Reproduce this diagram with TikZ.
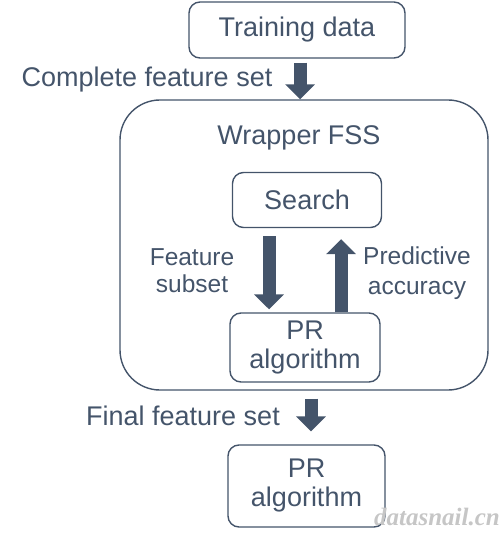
\documentclass[tikz,border=0pt]{standalone}
\usepackage{fontspec}
\setmainfont{Liberation Sans}
\newfontfamily\wmfont{Liberation Serif}
\usetikzlibrary{arrows.meta,calc}
\definecolor{slate}{HTML}{44546A}
\tikzset{
  box/.style={rectangle,draw=slate,line width=1.4pt,rounded corners=11pt,text=slate,align=center},
  lbl/.style={text=slate,align=center,inner sep=0pt},
  small/.style={font=\fontsize{24.5}{27}\selectfont},
  fat/.style={line width=13pt,draw=slate,-{Triangle[width=29pt,length=15pt]}},
}
\begin{document}
\begin{tikzpicture}[x=1pt,y=-1pt,font=\fontsize{27}{30}\selectfont]
            \useasboundingbox (0,0) rectangle (500,534);
            \node[box,minimum width=216pt,minimum height=56pt] (train) at (297,30) {Training data};
            \node[lbl] (lblComplete) at (147,80) {Complete feature set};
            \node[box,rounded corners=40pt,minimum width=368pt,minimum height=290pt] (wrap) at (304,245) {};
            \node[lbl] (lblWrap) at (299,138) {Wrapper FSS};
            \node[box,minimum width=149pt,minimum height=55pt] (search) at (307,200) {Search};
            \node[box,minimum width=150pt,minimum height=69pt,inner sep=1pt] (pr) at (305,347.5) {PR\\[-1pt]algorithm};
            \node[lbl,small] (lblSubset) at (192,271) {Feature\\[0pt]subset};
            \node[lbl,small] (lblAcc) at (417,273) {Predictive\\[3pt]accuracy};
            \node[lbl] (lblFinal) at (183,416) {Final feature set};
            \node[box,minimum width=157pt,minimum height=82pt,inner sep=1pt] (prout) at (306.5,486) {PR\\[-1pt]algorithm};
            \node[text=gray!45,inner sep=0pt,font=\fontsize{25}{27}\selectfont] (mark) at (437,517) {\wmfont\bfseries\itshape datasnail.cn};
            %block arrows
            \draw[fat,shorten <=4pt] ([xshift=3pt]train.south) -- ([xshift=-4pt]wrap.north);
            \draw[fat,shorten <=8pt,shorten >=3pt] ([xshift=-38pt]search.south) -- ([xshift=-36pt]pr.north);
            \draw[fat,shorten <=0pt,shorten >=11pt] ([xshift=36pt]pr.north) -- ([xshift=34pt]search.south);
            \draw[fat,shorten <=8pt,shorten >=13pt] ([xshift=7pt]wrap.south) -- ([xshift=4.5pt]prout.north);
        \end{tikzpicture}
\end{document}
